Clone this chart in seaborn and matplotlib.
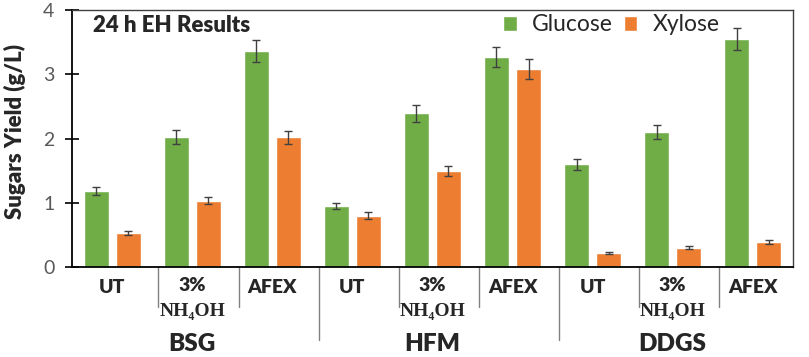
import pandas as pd
import seaborn as sns
import matplotlib.pyplot as plt

# Valores
groups = ['BSG', 'HFM', 'DDGS']
treatments = ['UT', '3%\nNH₄OH', 'AFEX']
glucose = [1.18, 2.02, 3.36, 0.95, 2.39, 3.27, 1.60, 2.10, 3.55]
glucose_err = [0.065, 0.11, 0.17, 0.05, 0.13, 0.16, 0.085, 0.11, 0.17]
xylose = [0.53, 1.03, 2.02, 0.80, 1.50, 3.08, 0.22, 0.30, 0.39]
xylose_err = [0.03, 0.055, 0.10, 0.05, 0.08, 0.15, 0.01, 0.02, 0.03]
sugars = ['Glucose', 'Xylose']
colors = ['#70AD47', '#ED7D31']


def main():
    sns.set_style('white')
    plt.rcParams['font.family'] = ['Lato', 'DejaVu Sans']

    cats = [g + '|' + t for g in groups for t in treatments]
    df = pd.DataFrame({
        'cat': cats * 2,
        'sugar': [sugars[0]] * 9 + [sugars[1]] * 9,
        'value': glucose + xylose,
        'err': glucose_err + xylose_err,
    })

    fig, ax = plt.subplots(figsize=(8.09, 3.57), dpi=100)
    fig.subplots_adjust(left=0.089, right=0.98, top=0.972, bottom=0.252)

    sns.barplot(data=df, x='cat', y='value', hue='sugar', palette=colors,
                width=0.8, gap=0.22, errorbar=None, ax=ax, saturation=1)

    # barras de erro nas posições das barras
    for cont, errs in zip(ax.containers, [glucose_err, xylose_err]):
        xs = [p.get_x() + p.get_width() / 2 for p in cont.patches]
        hs = [p.get_height() for p in cont.patches]
        ax.errorbar(xs, hs, yerr=errs, fmt='none', ecolor='#404040',
                    elinewidth=1, capsize=3, capthick=1)

    ax.set_ylim(0, 4)
    ax.set_xlim(-0.5, 8.5)
    ax.set_yticks([0, 1, 2, 3, 4])
    ax.tick_params(axis='y', direction='inout', length=9.5, width=1.2,
                   labelsize=14, labelcolor='#595959', color='black', pad=8, left=True)
    ax.set_xticks([])
    ax.set_xlabel('')
    ax.set_ylabel('Sugars Yield (g/L)', fontsize=16, fontweight='heavy')
    ax.yaxis.set_label_coords(-0.064, 0.527)

    for s in ['left', 'bottom']:
        ax.spines[s].set_color('black')
        ax.spines[s].set_linewidth(1.3)
    for s in ['top', 'right']:
        ax.spines[s].set_color('#404040')
        ax.spines[s].set_linewidth(1)

    trans = ax.get_xaxis_transform()
    for i in range(9):
        t = treatments[i % 3]
        if '\n' in t:
            top, bot = t.split('\n')
            ax.text(i, -0.093, top, transform=trans, ha='center', va='baseline',
                    fontsize=14, fontweight='heavy')
            ax.text(i, -0.19, bot, transform=trans, ha='center', va='baseline',
                    fontsize=14, fontweight='bold',
                    family=['Liberation Serif', 'DejaVu Serif'])
        else:
            ax.text(i, -0.101, t, transform=trans, ha='center', va='baseline',
                    fontsize=14, fontweight='heavy')
    for k, g in enumerate(groups):
        ax.text(3 * k + 1, -0.325, g, transform=trans, ha='center', va='baseline',
                fontsize=17.5, fontweight='heavy')

    # linhas separadoras
    for i in range(8):
        low = -0.285 if i in (2, 5) else -0.156
        ax.plot([i + 0.58, i + 0.58], [0, low], transform=trans,
                color='#808080', lw=1, clip_on=False)

    ax.text(0.029, 0.914, '24 h EH Results', transform=ax.transAxes,
            fontsize=16, fontweight='heavy', va='baseline', ha='left')

    ax.legend(loc='center left', bbox_to_anchor=(0.622, 0.93),
              bbox_transform=fig.transFigure, ncol=2,
              frameon=False, fontsize=16.5, handlelength=0.6, handleheight=0.6,
              handletextpad=0.65, columnspacing=0.48, borderpad=0, borderaxespad=0)

    plt.savefig('out.png', dpi=100)


if __name__ == "__main__":
    main()
